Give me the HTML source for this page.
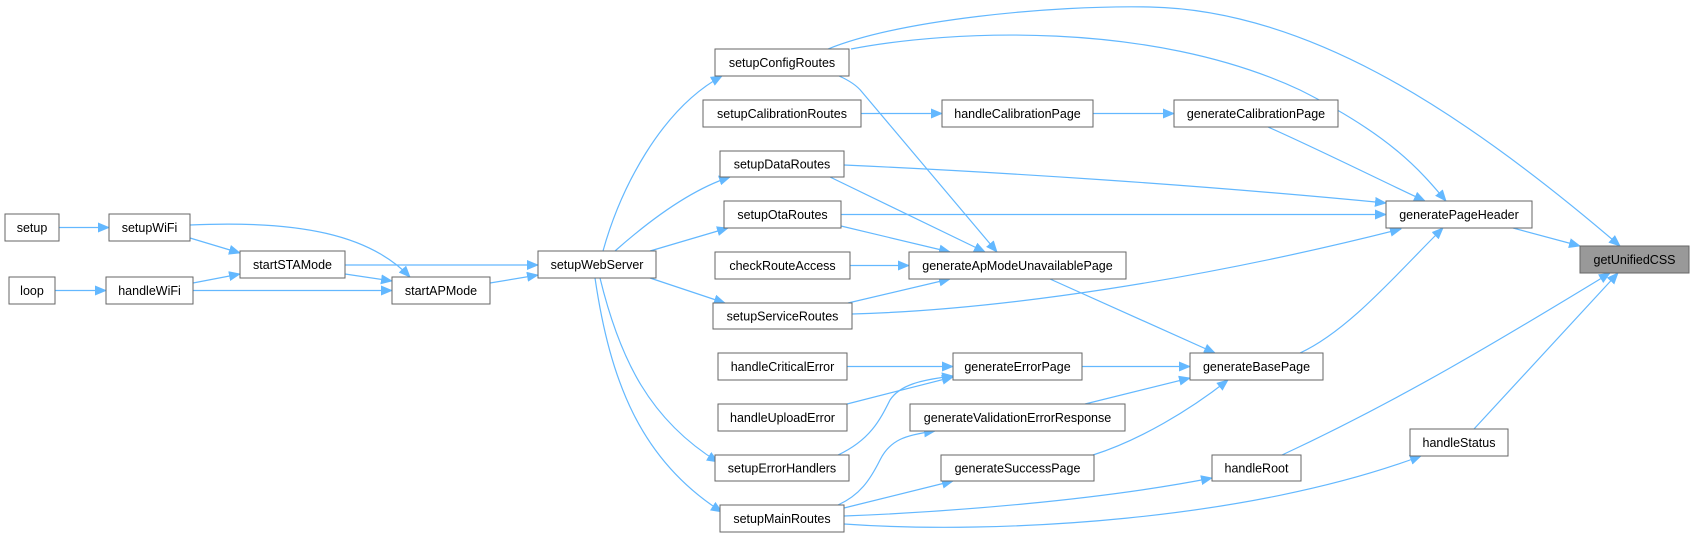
<!DOCTYPE html>
<html><head><meta charset="utf-8"><style>
html,body{margin:0;padding:0;background:#fff;}
svg{display:block;}
text{font-family:"Liberation Sans",sans-serif;font-size:12.5px;fill:#000;}
</style></head><body>
<svg width="1691" height="537" viewBox="0 0 1691 537" xmlns="http://www.w3.org/2000/svg">
<defs>
<marker id="a" markerWidth="12" markerHeight="10" refX="11" refY="5" orient="auto" markerUnits="userSpaceOnUse">
<path d="M0,0 L12,5 L0,10 Z" fill="#63b8ff"/>
</marker>
</defs>
<g fill="none" stroke="#63b8ff" stroke-width="1.2" marker-end="url(#a)">
<path d="M59,227.5 L109,227.5"/>
<path d="M55,290.5 L106,290.5"/>
<path d="M190,238 L240,253"/>
<path d="M193,283 L240,274"/>
<path d="M190,225 C300,220 370,235 410,277"/>
<path d="M193,290.5 L392,290.5"/>
<path d="M345,274 L392,281"/>
<path d="M345,265 L538,265"/>
<path d="M490,283 L538,275"/>
<path d="M603,251 C620,190 660,110 722,76"/>
<path d="M615,251 C650,220 690,190 730,177"/>
<path d="M650,251 L728,228"/>
<path d="M650,278 L725,303"/>
<path d="M600,278 C620,360 650,420 718,462"/>
<path d="M595,278 C610,380 640,460 722,512"/>
<path d="M861,113.5 L942,113.5"/>
<path d="M1093,113.5 L1174,113.5"/>
<path d="M1268,127 C1320,150 1390,185 1425,201"/>
<path d="M851,49 C950,30 1150,20 1300,90 C1390,135 1420,170 1446,201"/>
<path d="M828,49 C900,20 1050,5 1150,7 C1300,10 1450,100 1620,246"/>
<path d="M839,76 Q855,83 862,92 L997,252"/>
<path d="M830,177 L985,252"/>
<path d="M841,226 L950,252"/>
<path d="M850,265.5 L909,265.5"/>
<path d="M848,303 L950,279"/>
<path d="M844,165 C1000,172 1200,185 1386,203"/>
<path d="M841,214.5 L1386,214.5"/>
<path d="M852,314 C1000,310 1200,280 1401,229"/>
<path d="M1050,279 L1215,353"/>
<path d="M847,366.5 L953,366.5"/>
<path d="M847,404 L953,377"/>
<path d="M838,455 C870,440 880,420 890,400 C900,385 920,380 953,376"/>
<path d="M1082,366.5 L1190,366.5"/>
<path d="M1085,404 L1190,378"/>
<path d="M1093,455 C1140,440 1190,410 1228,380"/>
<path d="M1300,353 C1350,330 1400,270 1443,228"/>
<path d="M838,505 C860,495 870,480 880,460 C890,440 905,435 935,431"/>
<path d="M844,508 L953,481"/>
<path d="M844,516 C950,512 1100,500 1212,478"/>
<path d="M844,524 C1000,535 1250,520 1421,456"/>
<path d="M1513,228 L1580,246"/>
<path d="M1282,455 C1400,400 1500,340 1610,273"/>
<path d="M1474,429 L1618,273"/>
</g>
<g stroke="#666" stroke-width="1" fill="#fff">
<rect x="5" y="214" width="54" height="27"/>
<rect x="109" y="214" width="81" height="27"/>
<rect x="9" y="277" width="46" height="27"/>
<rect x="106" y="277" width="87" height="27"/>
<rect x="240" y="251" width="105" height="27"/>
<rect x="392" y="277" width="98" height="27"/>
<rect x="538" y="251" width="118" height="27"/>
<rect x="715" y="49" width="134" height="27"/>
<rect x="703" y="100" width="158" height="27"/>
<rect x="942" y="100" width="151" height="27"/>
<rect x="1174" y="100" width="164" height="27"/>
<rect x="720" y="151" width="124" height="26"/>
<rect x="724" y="201" width="117" height="27"/>
<rect x="715" y="252" width="135" height="27"/>
<rect x="909" y="252" width="217" height="27"/>
<rect x="713" y="303" width="139" height="26"/>
<rect x="718" y="353" width="129" height="27"/>
<rect x="953" y="353" width="129" height="27"/>
<rect x="1190" y="353" width="133" height="27"/>
<rect x="718" y="404" width="129" height="27"/>
<rect x="910" y="404" width="215" height="27"/>
<rect x="715" y="455" width="134" height="26"/>
<rect x="941" y="455" width="153" height="26"/>
<rect x="720" y="505" width="124" height="27"/>
<rect x="1212" y="455" width="89" height="26"/>
<rect x="1410" y="429" width="98" height="27"/>
<rect x="1386" y="201" width="146" height="27"/>
<rect x="1580" y="246" width="109" height="27" fill="#999"/>
</g>
<g text-anchor="middle">
<text x="32" y="232">setup</text>
<text x="149.5" y="232">setupWiFi</text>
<text x="32" y="295">loop</text>
<text x="149.5" y="295">handleWiFi</text>
<text x="292.5" y="269">startSTAMode</text>
<text x="441" y="295">startAPMode</text>
<text x="597" y="269">setupWebServer</text>
<text x="782" y="67">setupConfigRoutes</text>
<text x="782" y="118">setupCalibrationRoutes</text>
<text x="1017.5" y="118">handleCalibrationPage</text>
<text x="1256" y="118">generateCalibrationPage</text>
<text x="782" y="168.5">setupDataRoutes</text>
<text x="782.5" y="219">setupOtaRoutes</text>
<text x="782.5" y="270">checkRouteAccess</text>
<text x="1017.5" y="270">generateApModeUnavailablePage</text>
<text x="782.5" y="320.5">setupServiceRoutes</text>
<text x="782.5" y="371">handleCriticalError</text>
<text x="1017.5" y="371">generateErrorPage</text>
<text x="1256.5" y="371">generateBasePage</text>
<text x="782.5" y="422">handleUploadError</text>
<text x="1017.5" y="422">generateValidationErrorResponse</text>
<text x="782" y="472.5">setupErrorHandlers</text>
<text x="1017.5" y="472.5">generateSuccessPage</text>
<text x="782" y="523">setupMainRoutes</text>
<text x="1256.5" y="472.5">handleRoot</text>
<text x="1459" y="447">handleStatus</text>
<text x="1459" y="219">generatePageHeader</text>
<text x="1634.5" y="264">getUnifiedCSS</text>
</g>
</svg>
</body></html>
